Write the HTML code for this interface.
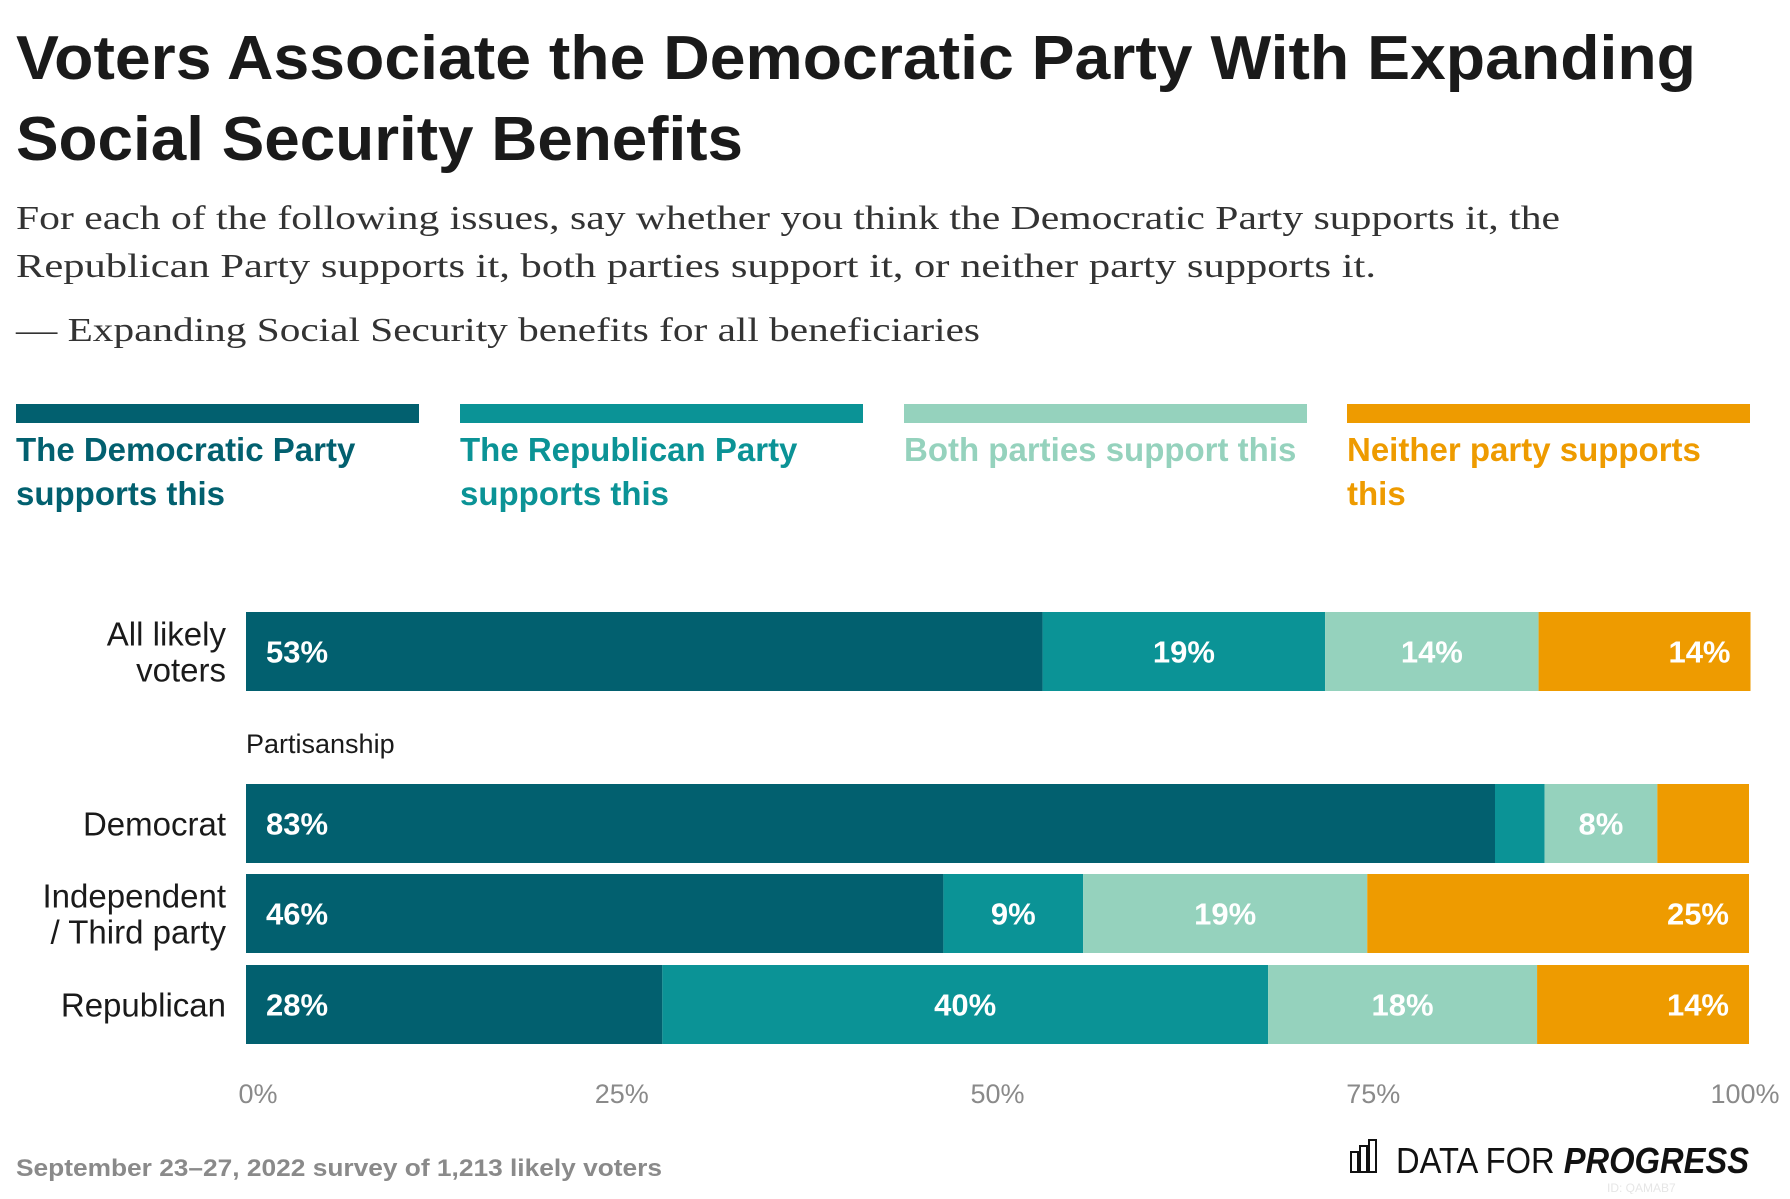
<!DOCTYPE html>
<html><head><meta charset="utf-8"><style>
body{margin:0;background:#fff;width:1790px;height:1194px;overflow:hidden;font-family:"Liberation Sans",sans-serif}
</style></head><body>
<svg id="chart" width="1790" height="1194" xmlns="http://www.w3.org/2000/svg">
<text x="16" y="79" font-size="62" font-weight="bold" fill="#1a1a1a" textLength="1680" lengthAdjust="spacingAndGlyphs">Voters Associate the Democratic Party With Expanding</text>
<text x="16" y="160" font-size="62" font-weight="bold" fill="#1a1a1a" textLength="727" lengthAdjust="spacingAndGlyphs">Social Security Benefits</text>
<text x="16" y="229" font-size="34" font-family="Liberation Serif,serif" fill="#333" textLength="1544" lengthAdjust="spacingAndGlyphs">For each of the following issues, say whether you think the Democratic Party supports it, the</text>
<text x="16" y="277" font-size="34" font-family="Liberation Serif,serif" fill="#333" textLength="1360" lengthAdjust="spacingAndGlyphs">Republican Party supports it, both parties support it, or neither party supports it.</text>
<text x="16" y="341" font-size="34" font-family="Liberation Serif,serif" fill="#333" textLength="964" lengthAdjust="spacingAndGlyphs">— Expanding Social Security benefits for all beneficiaries</text>
<g id="legend"></g>
<g id="bars"></g>
<text x="246" y="753" font-size="27" fill="#1a1a1a">Partisanship</text>
<g id="ticks"></g>
<text x="16" y="1176" font-size="24" font-weight="bold" fill="#8a8a8a" textLength="646" lengthAdjust="spacingAndGlyphs">September 23–27, 2022 survey of 1,213 likely voters</text>
<g>
<rect x="1351" y="1152" width="7" height="20" fill="none" stroke="#111" stroke-width="2"/>
<rect x="1360" y="1146" width="7" height="26" fill="none" stroke="#111" stroke-width="2"/>
<rect x="1369" y="1140" width="7" height="32" fill="none" stroke="#111" stroke-width="2"/>
<text x="1396" y="1173" font-size="36" fill="#111" textLength="353" lengthAdjust="spacingAndGlyphs">DATA FOR <tspan font-weight="bold" font-style="italic">PROGRESS</tspan></text>
<text x="1607" y="1192" font-size="12" fill="#e6e6e6">ID: QAMAB7</text>
</g>
</svg>
<script>
const categories=["All likely voters","Democrat","Independent / Third party","Republican"];
const catLines=[["All likely","voters"],["Democrat"],["Independent","/ Third party"],["Republican"]];
const seriesNames=["The Democratic Party supports this","The Republican Party supports this","Both parties support this","Neither party supports this"];
const demValues=[53,83.1,46.4,27.7];
const repValues=[18.8,3.3,9.3,40.3];
const bothValues=[14.2,7.5,18.9,17.9];
const neitherValues=[14.1,6.1,25.4,14.1];
const tickValues=[0,25,50,75,100];
const colors=["#02606f","#0b9396","#95d2bd","#ee9b00"];
const NS="http://www.w3.org/2000/svg";
const X0=246,X1=1749;
const x=v=>X0+(X1-X0)*v/100;
const rowTop=[612,784,874,965],barH=79;
function mk(tag,attrs,parent,txt){const e=document.createElementNS(NS,tag);for(const k in attrs)e.setAttribute(k,attrs[k]);if(txt!==undefined)e.textContent=txt;parent.appendChild(e);return e;}
const lg=document.getElementById('legend');
const legX=[16,460,904,1347],legW=403;
const legLines=[["The Democratic Party","supports this"],["The Republican Party","supports this"],["Both parties support this"],["Neither party supports","this"]];
legLines.forEach((ls,i)=>{
  const r=mk('rect',{x:legX[i],y:404,width:legW,height:19,fill:colors[i]},lg);
  
  
  const t=mk('text',{x:legX[i],y:461,'font-size':33,'font-weight':'bold',fill:colors[i]},lg);
  
  
  ls.forEach((l,j)=>mk('tspan',{x:legX[i],dy:j?44:0},t,l));
});
const bg=document.getElementById('bars');
const series=[demValues,repValues,bothValues,neitherValues];
categories.forEach((c,r)=>{
  const y=rowTop[r];
  const lines=catLines[r];
  const lt=mk('text',{x:226,'text-anchor':'end','font-size':33,fill:'#1a1a1a'},bg);
  
  
  const startY=y+barH/2+12-(lines.length-1)*18;
  lines.forEach((l,j)=>mk('tspan',{x:226,y:startY+j*36},lt,l));
  let acc=0;
  series.forEach((s,i)=>{
    const v=s[r];
    const xa=x(acc),xb=x(acc+v);
    const rect=mk('rect',{x:xa,y:y,width:xb-xa,height:barH,fill:colors[i]},bg);
    
    
    if(v>=7){
      let tx,anc;
      if(i===0){tx=xa+20;anc='start';}
      else if(i===3&&v>=10){tx=xb-20;anc='end';}
      else {tx=(xa+xb)/2;anc='middle';}
      const t=mk('text',{x:tx,y:y+barH/2+11,'text-anchor':anc,'font-size':31,'font-weight':'bold',fill:'#fff'},bg,Math.round(v)+'%');
      
      
    }
    acc+=v;
  });
});
const tg=document.getElementById('ticks');
tickValues.forEach((t,i)=>{
  const tx=x(t)+(i===0?12:(i===4?-4:0));
  const e=mk('text',{x:tx,y:1103,'text-anchor':'middle','font-size':27,fill:'#8a8a8a'},tg,t+'%');
  
  
});
</script>
</body></html>
